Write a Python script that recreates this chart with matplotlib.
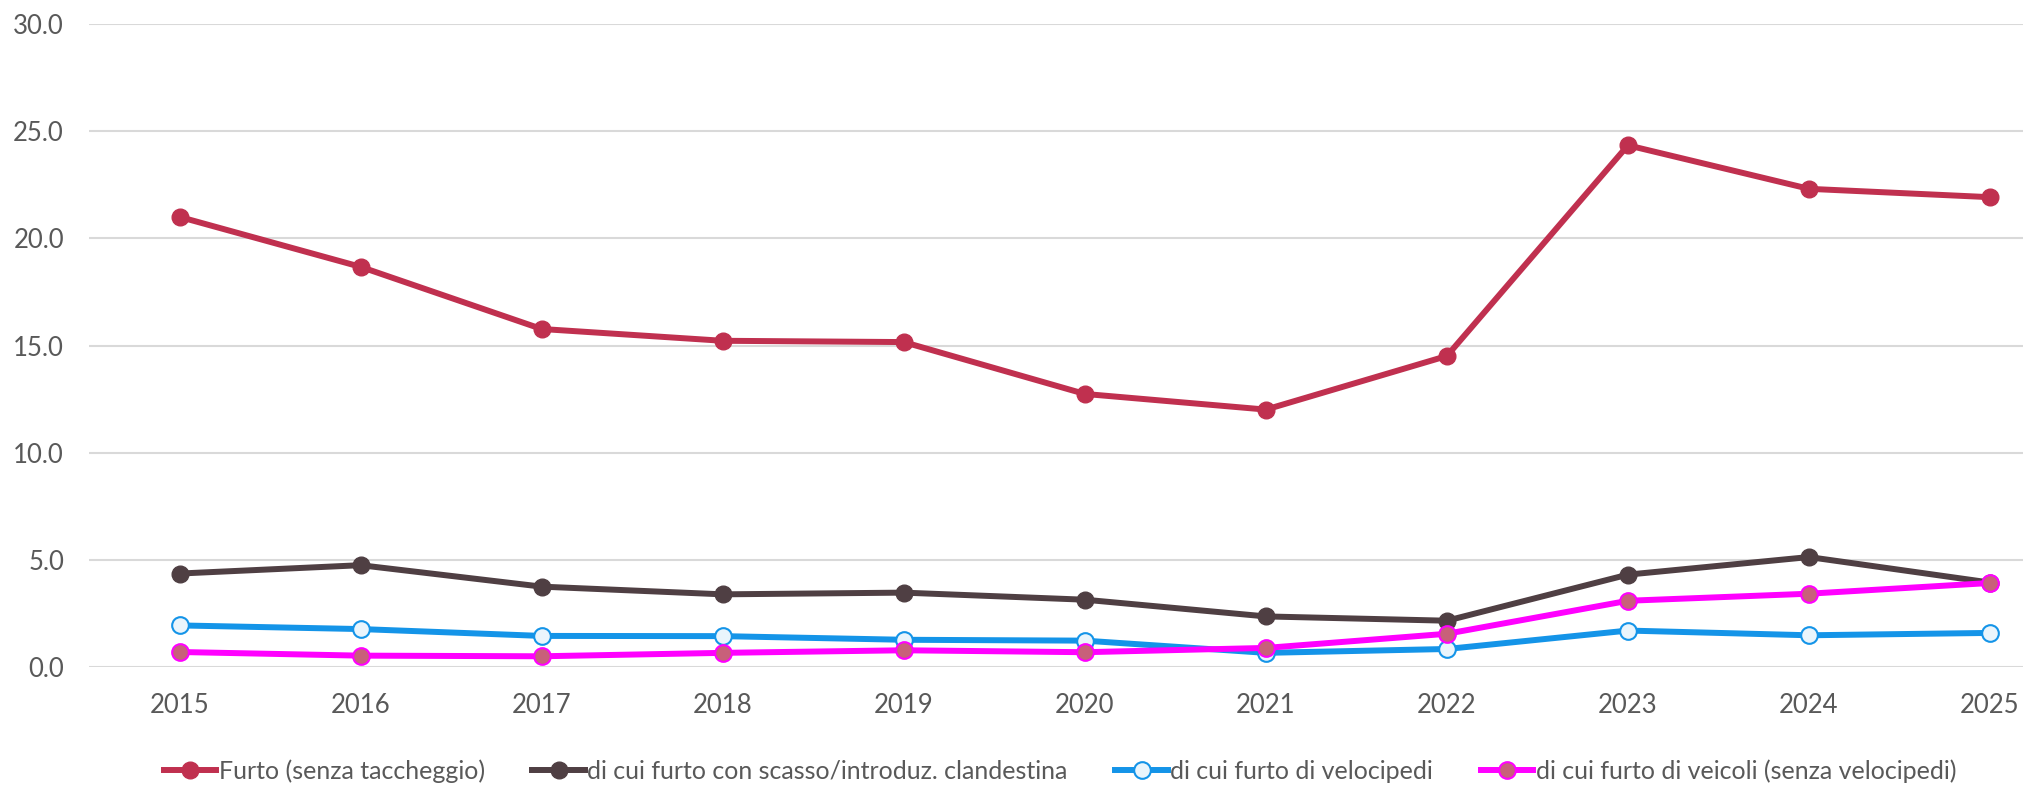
import matplotlib
matplotlib.use("Agg")
import matplotlib.pyplot as plt

plt.rcParams['font.family'] = ['Lato', 'DejaVu Sans']

anni = ['2015', '2016', '2017', '2018', '2019', '2020', '2021', '2022', '2023', '2024', '2025']
furto = [21.0, 18.67, 15.77, 15.22, 15.16, 12.74, 12.01, 14.51, 24.34, 22.31, 21.92]
scasso = [4.36, 4.75, 3.75, 3.39, 3.47, 3.14, 2.36, 2.16, 4.31, 5.13, 3.94]
velocipedi = [1.94, 1.77, 1.45, 1.44, 1.27, 1.23, 0.66, 0.84, 1.70, 1.48, 1.59]
veicoli = [0.70, 0.53, 0.50, 0.66, 0.78, 0.69, 0.89, 1.55, 3.09, 3.42, 3.92]

etichette = ['Furto (senza taccheggio)',
             'di cui furto con scasso/introduz. clandestina',
             'di cui furto di velocipedi',
             'di cui furto di veicoli (senza velocipedi)']
y_ticks = [0, 5, 10, 15, 20, 25, 30]

W, H = 2024, 785
fig = plt.figure(figsize=(W / 100, H / 100), dpi=100)
ax = fig.add_axes([89 / W, 1 - 667 / H, (W - 89) / W, (667 - 24) / H])

x = list(range(len(anni)))
lw = 4.3
ax.plot(x, furto, color='#C0304F', lw=lw, marker='o', ms=12,
        mfc='#C0304F', mec='#C0304F', label=etichette[0], zorder=3)
ax.plot(x, scasso, color='#4F3F43', lw=lw, marker='o', ms=12,
        mfc='#4F3F43', mec='#4F3F43', label=etichette[1], zorder=4)
ax.plot(x, velocipedi, color='#1494E8', lw=lw, marker='o', ms=12,
        mfc='#EAF5FC', mec='#1494E8', mew=1.5, label=etichette[2], zorder=5)
ax.plot(x, veicoli, color='#FF00FF', lw=lw, marker='o', ms=12,
        mfc='#C8607A', mec='#FF00FF', mew=1.5, label=etichette[3], zorder=6)

ax.set_xlim(-0.5, (W - 179) / 181.1)
ax.set_ylim(0, 30)
ax.set_xticks(x)
ax.set_xticklabels(anni)
ax.set_yticks(y_ticks)
ax.set_yticklabels([f'{v:.1f}' for v in y_ticks])
ax.tick_params(axis='both', length=0, labelsize=18.5, labelcolor='#595959')
ax.tick_params(axis='y', pad=18)
ax.tick_params(axis='x', pad=19)
ax.grid(axis='y', color='#D9D9D9', lw=1.5)
ax.set_axisbelow(True)
for s in ax.spines.values():
    s.set_visible(False)

fig.legend(loc='center', bbox_to_anchor=(1060 / W, 1 - 771 / H), ncol=4,
           frameon=False, fontsize=18, labelcolor='#595959',
           handlelength=2.1, handletextpad=0.1, columnspacing=1.9)

fig.savefig('out.png', dpi=100)
